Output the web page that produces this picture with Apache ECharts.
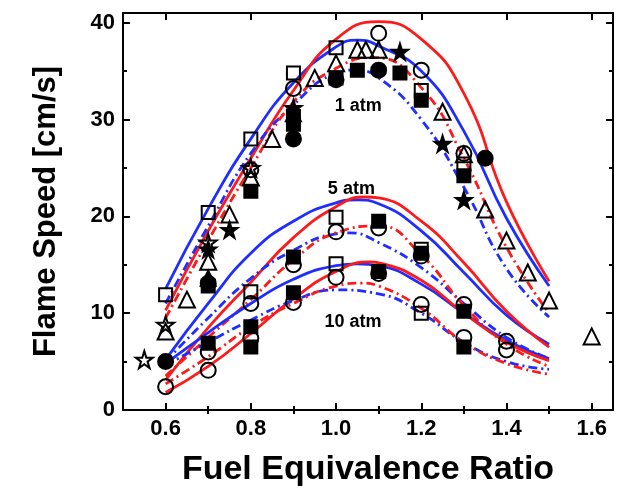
<!DOCTYPE html>
<html>
<head>
<meta charset="utf-8">
<script src="https://cdn.jsdelivr.net/npm/echarts@6/dist/echarts.min.js"></script>
<style>html,body{margin:0;padding:0;background:#fff}#c{width:628px;height:494px}</style>
</head>
<body>
<div id="c"></div>
<script>
// ---- tick values ----
const xMajor = [0.6, 0.8, 1.0, 1.2, 1.4, 1.6];
const xMinor = [0.7, 0.9, 1.1, 1.3, 1.5];
const yMajor = [0, 10, 20, 30, 40];
const yMinor = [5, 15, 25, 35];

// ---- model curves [phi, flame speed] ----
const red1 = [[0.6,10.3],[0.7,18.5],[0.8,26],[0.9,33],[1.0,38.3],[1.1,40.1],[1.2,38.3],[1.3,32.7],[1.4,21.5],[1.5,13.3]];
const blue1 = [[0.6,12.5],[0.7,20.8],[0.8,28],[0.9,33.8],[1.0,37.5],[1.05,38.2],[1.1,37.6],[1.2,35],[1.3,28.8],[1.4,19.8],[1.5,12.8]];
const redDD1 = [[0.6,9.5],[0.7,17.5],[0.8,25],[0.9,31.8],[1.0,35.3],[1.09,36.4],[1.2,33.3],[1.3,26],[1.4,16.8],[1.5,10]];
const blueDD1 = [[0.6,11],[0.7,19],[0.8,26.5],[0.9,31.5],[1.0,34.8],[1.04,35.1],[1.1,34.3],[1.2,30],[1.3,23],[1.4,14.6],[1.5,9.6]];

const red5 = [[0.6,3.1],[0.7,8.5],[0.8,13.2],[0.9,17.8],[1.0,21],[1.07,22],[1.1,21.9],[1.2,19.5],[1.3,15.2],[1.4,10.2],[1.5,6.5]];
const blue5 = [[0.6,5.2],[0.7,11],[0.8,16.2],[0.9,19.5],[1.0,21.4],[1.05,21.7],[1.1,21.3],[1.2,18.5],[1.3,14.2],[1.4,9.8],[1.5,6.8]];
const redDD5 = [[0.6,3.5],[0.7,7.5],[0.8,11.4],[0.9,15.5],[1.0,18.3],[1.1,19],[1.2,16],[1.3,10.8],[1.4,6.8],[1.5,4.5]];
const blueDD5 = [[0.6,5],[0.7,9.5],[0.8,13.6],[0.9,16.5],[1.0,18.2],[1.03,18.3],[1.1,17.3],[1.2,14.7],[1.3,11],[1.4,7.5],[1.5,5.3]];

const red10 = [[0.6,1.8],[0.7,4.5],[0.8,7.9],[0.9,11.5],[1.0,14.3],[1.08,15.3],[1.1,15.2],[1.2,13.4],[1.3,10],[1.4,7],[1.5,5.1]];
const blue10 = [[0.6,4.8],[0.7,8],[0.8,11],[0.9,13.5],[1.0,14.9],[1.05,15.1],[1.1,14.9],[1.2,13],[1.3,10],[1.4,7.2],[1.5,5.3]];
const redDD10 = [[0.6,2.7],[0.7,5.5],[0.8,8.6],[0.9,11],[1.0,12.8],[1.06,13.1],[1.1,12.8],[1.2,10.5],[1.3,7],[1.4,4.8],[1.5,3.7]];
const blueDD10 = [[0.6,4.6],[0.7,7],[0.8,9.3],[0.9,11.3],[1.0,12.4],[1.1,12],[1.2,10],[1.3,7],[1.4,5],[1.5,4.2]];

// ---- experimental points [phi, flame speed] ----
const openSquare = [[0.6,11.9],[0.7,20.4],[0.8,28],[0.9,34.8],[1.0,37.4],[1.2,33],[1.3,25.4],
  [0.8,12.2],[1.0,19.9],[1.2,16.6],[1.0,15.1],[1.2,10.0]];
const filledSquare = [[0.7,12.8],[0.8,22.6],[0.9,29.5],[0.9,30.3],[1.0,34.3],[1.05,35.1],[1.15,34.8],[1.2,32],[1.3,24.2],
  [0.7,6.9],[0.9,15.8],[1.1,19.5],[1.2,16.2],[1.3,10.2],
  [0.8,8.6],[0.8,6.5],[0.9,12.1],[1.1,14.3],[1.3,6.5]];
const openCircle = [[0.8,24.8],[0.9,33.2],[1.1,38.9],[1.2,35.1],[1.3,26.5],
  [0.7,6.0],[0.8,11.0],[0.9,15.0],[1.0,18.4],[1.1,18.8],[1.2,15.9],[1.3,10.9],[1.4,7.1],
  [0.6,2.4],[0.7,4.1],[0.8,7.4],[0.9,11.1],[1.0,13.7],[1.1,14.1],[1.2,10.9],[1.3,7.5],[1.4,6.2]];
const filledCircle = [[0.7,13.1],[0.9,28],[1.0,34.1],[1.1,35.1],[1.35,26],[0.6,5.0]];
const openTriangle = [[0.6,8.1],[0.65,11.4],[0.7,15.3],[0.75,20.2],[0.8,24],[0.85,28],[0.95,34.3],[1.0,35.8],
  [1.05,37.2],[1.07,37.2],[1.1,37.2],[1.25,30.8],[1.3,26.4],[1.35,20.7],[1.4,17.5],[1.45,14.2],[1.5,11.3],[1.6,7.6]];
const filledTriangle = [[0.7,13.6],[0.9,30.6]];
const filledStar = [[0.7,16.6],[0.75,18.6],[0.9,31.2],[1.15,37],[1.25,27.5],[1.3,21.7]];
const openStar = [[0.55,5.2],[0.6,8.8],[0.7,17.3],[0.8,25.0]];

// ---- annotations ----
const labels = [{value:[1.052,31.4], name:'1 atm'},{value:[1.036,22.8], name:'5 atm'},{value:[1.04,9.1], name:'10 atm'}];

const FONT = "'Liberation Sans', Arial, sans-serif";
const RED = '#ff1a1a', BLUE = '#1f2dff';
const DD = [9, 4, 2, 4];
const STAR = 'path://M50 0 L61.23 34.55 L97.55 34.55 L68.16 55.9 L79.39 90.45 L50 69.1 L20.61 90.45 L31.84 55.9 L2.45 34.55 L38.77 34.55 Z';

function line(data, color, dashed) {
  return {type:'line', data, smooth:0.5, symbol:'none', silent:true, z:2,
    lineStyle:{color, width:2.8, type: dashed ? DD : 'solid'}};
}
function pts(data, symbol, filled, size) {
  return {type:'scatter', data, symbol, symbolSize:size, z:3, silent:true,
    itemStyle:{color: filled ? '#000' : 'rgba(0,0,0,0)', borderColor:'#000', borderWidth:2, opacity:1}};
}
const axisLine = {show:true, onZero:false, lineStyle:{color:'#000', width:2}};
function xa(pos, vals, len, withLabel, showLine) {
  return {type:'value', min:0.5, max:1.65, position:pos, gridIndex:0,
    axisLine: showLine ? axisLine : {show:false},
    splitLine:{show:false},
    axisTick:{show:true, inside:true, length:len, customValues:vals, lineStyle:{color:'#000', width:2}},
    axisLabel: withLabel ? {show:true, customValues:vals, formatter:v=>v.toFixed(1), color:'#000',
      fontFamily:FONT, fontWeight:'bold', fontSize:22, margin:8} : {show:false},
    name: withLabel ? 'Fuel Equivalence Ratio' : '', nameLocation:'middle', nameGap:43,
    nameTextStyle:{color:'#000', fontFamily:FONT, fontWeight:'bold', fontSize:34}};
}
function ya(pos, vals, len, withLabel, showLine) {
  return {type:'value', min:0, max:41, position:pos, gridIndex:0,
    axisLine: showLine ? axisLine : {show:false},
    splitLine:{show:false},
    axisTick:{show:true, inside:true, length:len, customValues:vals, lineStyle:{color:'#000', width:2}},
    axisLabel: withLabel ? {show:true, customValues:vals, color:'#000',
      fontFamily:FONT, fontWeight:'bold', fontSize:22, margin:8} : {show:false},
    name: withLabel ? 'Flame Speed [cm/s]' : '', nameLocation:'middle', nameGap:61,
    nameTextStyle:{color:'#000', fontFamily:FONT, fontWeight:'bold', fontSize:31}};
}

const chart = echarts.init(document.getElementById('c'), null, {renderer:'canvas'});
chart.setOption({
  animation:false,
  backgroundColor:'#fff',
  grid:{left:123, right:15, top:13, bottom:84},
  xAxis:[xa('bottom', xMajor, 7, true, true), xa('bottom', xMinor, 4, false, false),
         xa('top', xMajor, 7, false, true), xa('top', xMinor, 4, false, false)],
  yAxis:[ya('left', yMajor, 7, true, true), ya('left', yMinor, 4, false, false),
         ya('right', yMajor, 7, false, true), ya('right', yMinor, 4, false, false)],
  series:[
    line(blue1, BLUE, false), line(red1, RED, false), line(blueDD1, BLUE, true), line(redDD1, RED, true),
    line(blue5, BLUE, false), line(red5, RED, false), line(blueDD5, BLUE, true), line(redDD5, RED, true),
    line(blue10, BLUE, false), line(red10, RED, false), line(blueDD10, BLUE, true), line(redDD10, RED, true),
    pts(openSquare, 'rect', false, 13),
    pts(filledSquare, 'rect', true, 13),
    pts(openCircle, 'circle', false, 15),
    pts(filledCircle, 'circle', true, 15),
    pts(openTriangle, 'triangle', false, 16),
    pts(filledTriangle, 'triangle', true, 15),
    pts(filledStar, STAR, true, 16),
    pts(openStar, STAR, false, 17),
    {type:'scatter', data:labels, symbolSize:1, z:4, silent:true, itemStyle:{color:'rgba(0,0,0,0)', opacity:1},
      label:{show:true, position:'inside', formatter:'{b}', color:'#000', opacity:1, fontFamily:FONT, fontWeight:'bold', fontSize:18}}
  ]
});
</script>
</body>
</html>
